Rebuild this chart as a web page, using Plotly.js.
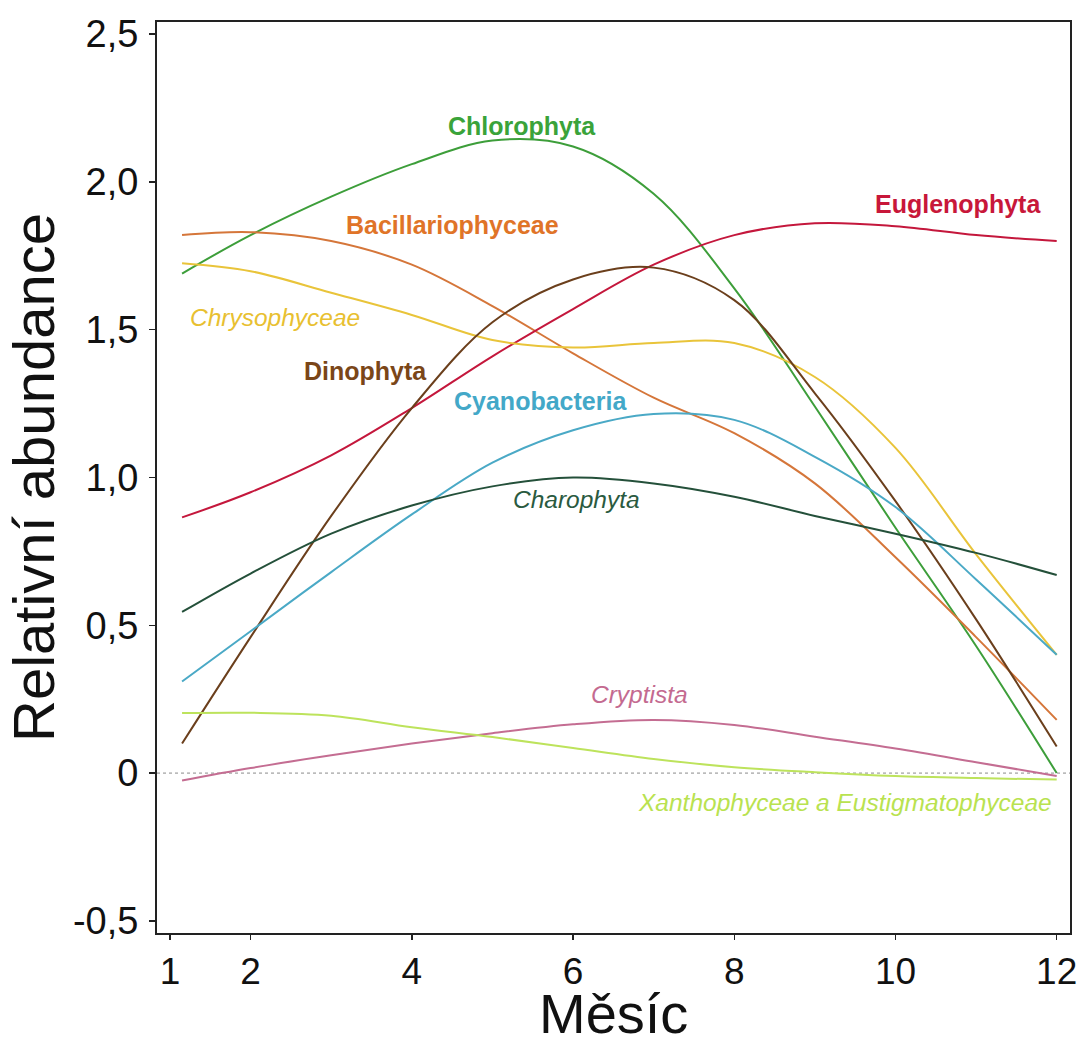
<!DOCTYPE html>
<html>
<head>
<meta charset="utf-8">
<script src="https://cdn.plot.ly/plotly-3.0.1.min.js"></script>
<style>html,body{margin:0;padding:0;background:#fff;}#chart{width:1084px;height:1037px;}</style>
</head>
<body>
<div id="chart"></div>
<script>
// Months (curves start slightly after month 1)
const months = [1.15, 2, 3, 4, 5, 6, 7, 8, 9, 10, 11, 12];

// Relative abundance
const chlorophyta       = [1.69, 1.82, 1.95, 2.06, 2.14, 2.12, 1.96, 1.64, 1.24, 0.83, 0.43, 0.00];
const bacillariophyceae = [1.82, 1.83, 1.80, 1.72, 1.58, 1.42, 1.27, 1.15, 0.98, 0.73, 0.46, 0.18];
const euglenophyta      = [0.865, 0.95, 1.075, 1.235, 1.41, 1.57, 1.72, 1.82, 1.86, 1.85, 1.82, 1.80];
const chrysophyceae     = [1.725, 1.698, 1.625, 1.55, 1.465, 1.44, 1.455, 1.455, 1.34, 1.10, 0.74, 0.40];
const dinophyta         = [0.10, 0.46, 0.87, 1.235, 1.525, 1.67, 1.71, 1.60, 1.285, 0.92, 0.52, 0.09];
const cyanobacteria     = [0.31, 0.48, 0.68, 0.875, 1.05, 1.16, 1.215, 1.195, 1.07, 0.90, 0.655, 0.40];
const charophyta        = [0.545, 0.675, 0.81, 0.905, 0.97, 1.00, 0.98, 0.935, 0.87, 0.81, 0.745, 0.67];
const cryptista         = [-0.025, 0.017, 0.06, 0.10, 0.135, 0.165, 0.18, 0.163, 0.123, 0.083, 0.037, -0.01];
const xanthophyceae     = [0.203, 0.204, 0.194, 0.155, 0.122, 0.085, 0.048, 0.02, 0.003, -0.01, -0.017, -0.022];

// Axis ticks and titles
const xTickVals = [1, 2, 4, 6, 8, 10, 12];
const yTickVals = [-0.5, 0, 0.5, 1, 1.5, 2, 2.5];
const yTickText = ['-0,5', '0', '0,5', '1,0', '1,5', '2,0', '2,5'];
const xTitle = 'Měsíc';
const yTitle = 'Relativní abundance';

const seriesNames = ['Chlorophyta', 'Bacillariophyceae', 'Euglenophyta', 'Chrysophyceae', 'Dinophyta',
                     'Cyanobacteria', 'Charophyta', 'Cryptista', 'Xanthophyceae a Eustigmatophyceae'];
const seriesValues = [chlorophyta, bacillariophyceae, euglenophyta, chrysophyceae, dinophyta,
                      cyanobacteria, charophyta, cryptista, xanthophyceae];

// Styles
const lineColors = ['#3d9e3a', '#d5763a', '#c4173c', '#e9c43a', '#6b3f1c',
                    '#4aa9c6', '#24503a', '#c46d92', '#bde35c'];
const textColors = ['#3aa33a', '#e07428', '#c8173a', '#e8c030', '#7a4618',
                    '#43a8c8', '#2a5a40', '#c46a90', '#b9e250'];
const labelPos = [
  [5.37, 2.19, true], [4.50, 1.853, true], [10.78, 1.925, true], [2.30, 1.543, false],
  [3.43, 1.36, true], [5.60, 1.258, true], [6.04, 0.927, false], [6.83, 0.267, false], [9.37, -0.098, false]
];

const FONT = 'Liberation Sans, Arial, Helvetica, sans-serif';

const traces = seriesNames.map((n, i) => ({
  type: 'scatter', mode: 'lines', name: n,
  x: months, y: seriesValues[i],
  line: {color: lineColors[i], width: 2, shape: 'spline', smoothing: 1},
  hoverinfo: 'x+y+name'
}));

const annotations = seriesNames.map((n, i) => ({
  x: labelPos[i][0], y: labelPos[i][1], xref: 'x', yref: 'y',
  text: labelPos[i][2] ? '<b>' + n + '</b>' : '<i>' + n + '</i>',
  showarrow: false, xanchor: 'center', yanchor: 'middle',
  font: {family: FONT, size: labelPos[i][2] ? 25 : 24.5, color: textColors[i]}
}));
// x-axis title, placed just under the tick labels
annotations.push({
  x: 0.5, y: -0.0885, xref: 'paper', yref: 'paper', text: xTitle,
  showarrow: false, xanchor: 'center', yanchor: 'middle',
  font: {family: FONT, size: 56, color: '#111'}
});

const layout = {
  width: 1084, height: 1037,
  margin: {l: 157, r: 14, t: 22, b: 104},
  paper_bgcolor: '#fff', plot_bgcolor: '#fff',
  showlegend: false,
  font: {family: FONT, color: '#111'},
  xaxis: {
    range: [0.839, 12.165], tickvals: xTickVals, ticktext: xTickVals.map(String),
    showgrid: false, zeroline: false, showline: true, linecolor: '#222', linewidth: 2, mirror: true,
    ticks: 'outside', ticklen: 5, tickwidth: 1.5, tickcolor: '#222',
    tickfont: {family: FONT, size: 37, color: '#111'}
  },
  yaxis: {
    range: [-0.541, 2.541], tickvals: yTickVals, ticktext: yTickText,
    showgrid: false, zeroline: false, showline: true, linecolor: '#222', linewidth: 2, mirror: true,
    ticks: 'outside', ticklen: 6, tickwidth: 1.5, tickcolor: '#222',
    ticklabelstandoff: 3,
    tickfont: {family: FONT, size: 38, color: '#111'},
    title: {text: yTitle, font: {family: FONT, size: 58, color: '#111'}, standoff: 0}
  },
  shapes: [{type: 'line', xref: 'paper', x0: 0, x1: 1, yref: 'y', y0: 0, y1: 0,
            line: {color: '#8a8a8a', width: 1, dash: 'dot'}, layer: 'below'}],
  annotations: annotations
};

Plotly.newPlot('chart', traces, layout, {displayModeBar: false, staticPlot: true});
</script>
</body>
</html>
